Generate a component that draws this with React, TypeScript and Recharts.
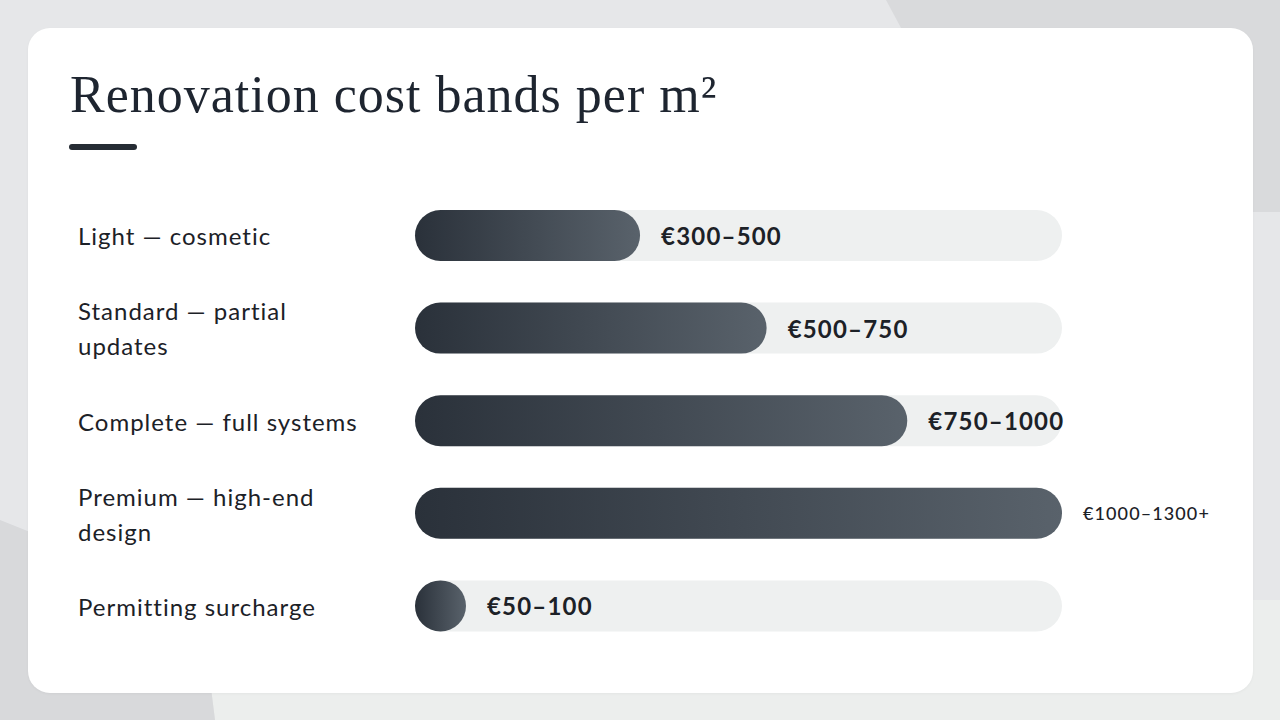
import React from 'react';
import { BarChart, Bar, XAxis, YAxis, LabelList } from 'recharts';

const categories = [
    'Light — cosmetic',
    'Standard — partial updates',
    'Complete — full systems',
    'Premium — high-end design',
    'Permitting surcharge',
];
// bar length = middle of each cost band (€/m²)
const midValues = [400, 625, 875, 1150, 75];
const rangeLabels = ['€300–500', '€500–750', '€750–1000', '€1000–1300+', '€50–100'];

const chartData = categories.map((name, i) => ({
    name,
    mid: midValues[i],
    range: rangeLabels[i],
}));

const maxValue = Math.max(...midValues);

const SANS = 'Lato, "Noto Sans", sans-serif';

function wrapLabel(text: string, maxChars: number) {
    const words = text.split(' ');
    const lines: string[] = [];
    let current = '';
    words.forEach(w => {
        const next = current ? current + ' ' + w : w;
        if (next.length > maxChars && current) {
            lines.push(current);
            current = w;
        } else {
            current = next;
        }
    });
    if (current) lines.push(current);
    return lines;
}

const CategoryTick = (props: any) => {
    const { x, y, payload } = props;
    const lines = wrapLabel(payload.value, 24);
    const lineHeight = 35;
    const startY = y - ((lines.length - 1) * lineHeight) / 2;
    return (
        <text
            x={x - 337}
            y={startY}
            fill="#1c2127"
            fontFamily={SANS}
            fontSize={24}
            letterSpacing={1}
            dominantBaseline="central"
        >
            {lines.map((line, i) => (
                <tspan key={i} x={x - 337} y={startY + i * lineHeight}>
                    {line}
                </tspan>
            ))}
        </text>
    );
};

const PillBar = (props: any) => {
    const { x, y, width, height } = props;
    const w = Math.max(width, height);
    return (
        <rect
            x={x}
            y={y}
            width={w}
            height={height}
            rx={height / 2}
            ry={height / 2}
            fill="url(#barGradient)"
        />
    );
};

const TrackShape = (props: any) => {
    const { x, y, width, height } = props;
    return (
        <rect x={x} y={y} width={width} height={height} rx={height / 2} ry={height / 2} fill="#eef0f0" />
    );
};

const RangeLabel = (props: any) => {
    const { x, y, width, height, value, index } = props;
    const end = x + Math.max(width, height);
    const isFull = midValues[index] >= maxValue;
    return (
        <text
            x={end + 21}
            y={y + height / 2}
            fill="#1c2127"
            fontFamily={SANS}
            fontSize={isFull ? 18 : 24}
            fontWeight={isFull ? 500 : 700}
            letterSpacing={isFull ? 1.1 : 1.2}
            dominantBaseline="central"
        >
            {value}
        </text>
    );
};

export default function App() {
    return (
        <div
            style={{
                position: 'absolute',
                left: 0,
                top: 0,
                width: 1280,
                height: 720,
                overflow: 'hidden',
                background: '#e6e7e9',
            }}
        >
            {/* background shapes */}
            <div
                style={{
                    position: 'absolute',
                    inset: 0,
                    background: '#d9dadc',
                    clipPath: 'polygon(886px 0, 1280px 0, 1280px 212px, 1000px 212px)',
                }}
            />
            <div
                style={{
                    position: 'absolute',
                    inset: 0,
                    background: '#eceeed',
                    clipPath: 'polygon(200px 600px, 1280px 600px, 1280px 720px, 215px 720px)',
                }}
            />
            <div
                style={{
                    position: 'absolute',
                    inset: 0,
                    background: '#d8d9db',
                    clipPath: 'polygon(0 520px, 200px 600px, 215px 720px, 0 720px)',
                }}
            />

            {/* card */}
            <div
                style={{
                    position: 'absolute',
                    left: 28,
                    top: 28,
                    width: 1225,
                    height: 665,
                    background: '#ffffff',
                    borderRadius: 22,
                    boxShadow: '0 1px 3px rgba(0,0,0,0.04)',
                }}
            />

            <div
                style={{
                    position: 'absolute',
                    left: 70,
                    top: 65,
                    fontFamily: '"Liberation Serif", serif',
                    fontSize: 52,
                    letterSpacing: 1,
                    color: '#1e2530',
                    lineHeight: '60px',
                    whiteSpace: 'nowrap',
                }}
            >
                Renovation cost bands per m²
            </div>
            <div
                style={{
                    position: 'absolute',
                    left: 69,
                    top: 144,
                    width: 68,
                    height: 6,
                    borderRadius: 3,
                    background: '#262c34',
                }}
            />

            <div style={{ position: 'absolute', left: 0, top: 0 }}>
                <BarChart
                    width={1280}
                    height={720}
                    data={chartData}
                    layout="vertical"
                    margin={{ top: 189, right: 218, bottom: 68, left: 78 }}
                >
                    <defs>
                        <linearGradient id="barGradient" x1="0" y1="0" x2="1" y2="0">
                            <stop offset="0%" stopColor="#2a313a" />
                            <stop offset="100%" stopColor="#59626b" />
                        </linearGradient>
                    </defs>
                    <XAxis type="number" domain={[0, 'dataMax']} hide />
                    <YAxis
                        type="category"
                        dataKey="name"
                        width={337}
                        axisLine={false}
                        tickLine={false}
                        tickSize={0}
                        tickMargin={0}
                        tick={<CategoryTick />}
                        interval={0}
                    />
                    <Bar
                        dataKey="mid"
                        barSize={51}
                        shape={<PillBar />}
                        background={<TrackShape />}
                        isAnimationActive={false}
                    >
                        <LabelList dataKey="range" content={<RangeLabel />} />
                    </Bar>
                </BarChart>
            </div>
        </div>
    );
}
